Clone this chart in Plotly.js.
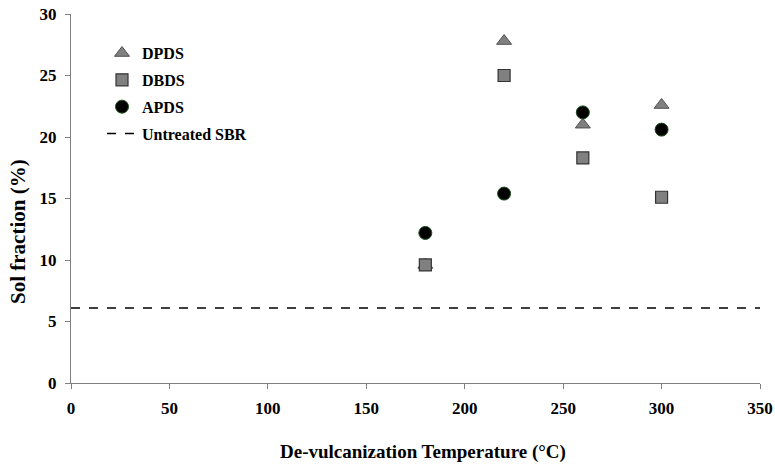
<!DOCTYPE html>
<html><head><meta charset="utf-8">
<script src="https://cdn.plot.ly/plotly-3.0.1.min.js"></script>
<style>body{margin:0;background:#fff}#c{width:775px;height:466px}</style>
</head><body><div id="c"></div>
<script>
const temps = [180, 220, 260, 300];
const dpds = [9.6, 27.8, 21.0, 22.6];
const dbds = [9.6, 25.0, 18.3, 15.1];
const apds = [12.2, 15.4, 22.0, 20.6];
const untreatedX = [0, 350];
const untreatedY = [6.1, 6.1];
const xTicks = [0, 50, 100, 150, 200, 250, 300, 350];
const yTicks = [0, 5, 10, 15, 20, 25, 30];
const fam = '"Liberation Serif", "Times New Roman", serif';
const traces = [
  {x: temps, y: dpds, name: '<b>DPDS</b>', legendgroup: 'a', mode: 'markers', type: 'scatter',
   marker: {symbol: 'triangle-up', size: 13, color: '#808080', line: {color: '#505050', width: 1}}},
  {x: temps, y: dbds, name: '<b>DBDS</b>', legendgroup: 'b', mode: 'markers', type: 'scatter',
   marker: {symbol: 'square', size: 12, color: '#808080', line: {color: '#333', width: 1.2}}},
  {x: temps, y: apds, name: '<b>APDS</b>', legendgroup: 'c', mode: 'markers', type: 'scatter',
   marker: {symbol: 'circle', size: 13, color: '#000', line: {color: '#1a4d1a', width: 1}}},
  {x: untreatedX, y: untreatedY, name: '<b>Untreated SBR</b>', legendgroup: 'd', mode: 'lines', type: 'scatter',
   line: {color: '#000', width: 1.5, dash: 'dash'}}
];
const layout = {
  width: 775, height: 466,
  margin: {l: 71, r: 15, t: 14, b: 83},
  paper_bgcolor: '#fff', plot_bgcolor: '#fff',
  font: {family: fam, size: 16, color: '#000'},
  showlegend: true,
  legend: {x: 0.045, y: 0.94, xanchor: 'left', yanchor: 'top', bgcolor: 'rgba(0,0,0,0)',
    font: {family: fam, size: 16, color: '#000'}, tracegroupgap: 3, itemwidth: 30},
  xaxis: {range: [0, 350], tickvals: xTicks, ticktext: xTicks.map(String),
    showline: true, linecolor: '#808080', linewidth: 1,
    ticks: 'outside', ticklen: 5, tickcolor: '#808080', showgrid: false, zeroline: false,
    ticklabelstandoff: 5,
    tickfont: {family: fam, size: 17, color: '#000', weight: 700}},
  yaxis: {range: [0, 30], tickvals: yTicks, ticktext: yTicks.map(String),
    showline: true, linecolor: '#808080', linewidth: 1,
    ticks: 'outside', ticklen: 5, tickcolor: '#808080', showgrid: false, zeroline: false,
    ticklabelstandoff: 5,
    tickfont: {family: fam, size: 17, color: '#000', weight: 700}},
  annotations: [
    {text: '<b>De-vulcanization Temperature (°C)</b>', xref: 'paper', yref: 'paper',
     x: (423 - 71) / 689, y: -(452 - 383) / 369, xanchor: 'center', yanchor: 'middle',
     showarrow: false, font: {family: fam, size: 19, color: '#000'}},
    {text: '<b>Sol fraction (%)</b>', xref: 'paper', yref: 'paper', textangle: -90,
     x: (18 - 71) / 689, y: (383 - 232) / 369, xanchor: 'center', yanchor: 'middle',
     showarrow: false, font: {family: fam, size: 21, color: '#000'}}
  ]
};
Plotly.newPlot('c', traces, layout, {displayModeBar: false});
</script></body></html>
